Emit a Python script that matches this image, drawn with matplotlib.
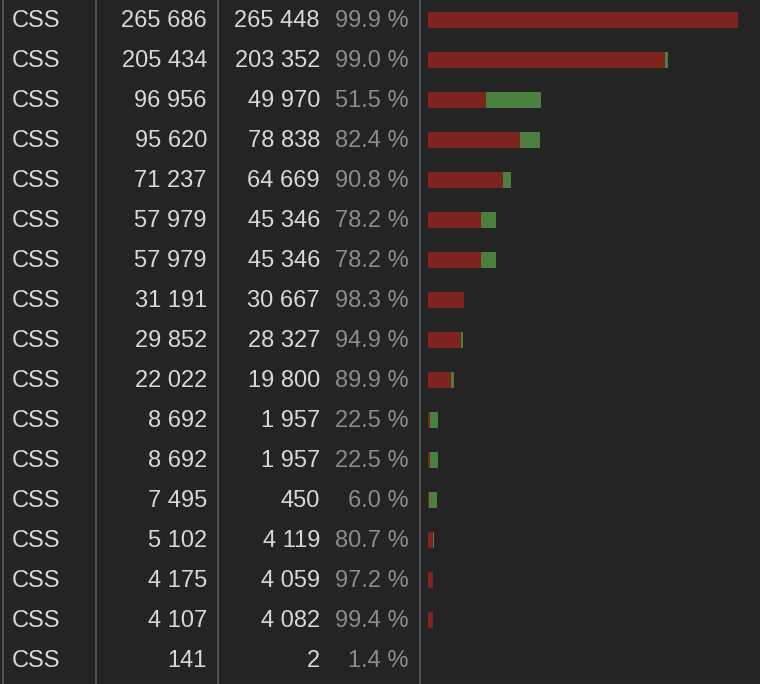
import matplotlib
matplotlib.use("Agg")
import matplotlib.pyplot as plt

# coverage table values
types = ["CSS"] * 17
total_bytes = [265686, 205434, 96956, 95620, 71237, 57979, 57979, 31191, 29852,
               22022, 8692, 8692, 7495, 5102, 4175, 4107, 141]
unused_bytes = [265448, 203352, 49970, 78838, 64669, 45346, 45346, 30667, 28327,
                19800, 1957, 1957, 450, 4119, 4059, 4082, 2]
unused_pct = [99.9, 99.0, 51.5, 82.4, 90.8, 78.2, 78.2, 98.3, 94.9,
              89.9, 22.5, 22.5, 6.0, 80.7, 97.2, 99.4, 1.4]

BG = "#242424"
TXT = "#d5d8dd"
PCT = "#8c8c8c"
RED = "#7d2420"
GREEN = "#4a7f3f"
SEP = "#5c5c5c"

W, H = 760, 684
fig = plt.figure(figsize=(W / 100, H / 100), dpi=100, facecolor=BG)
ax = fig.add_axes([0, 0, 1, 1])
ax.set_facecolor(BG)
ax.set_xlim(0, W)
ax.set_ylim(H, 0)
ax.axis("off")

def fmt(n):
    return f"{n:,}".replace(",", " ")

bar_x0 = 428
bar_max = 310
scale = bar_max / max(total_bytes)
row_h = 40
font = dict(family=["Liberation Sans", "DejaVu Sans"], fontsize=17, va="center")

for i, (t, tot, un, pct) in enumerate(zip(types, total_bytes, unused_bytes, unused_pct)):
    y = 20 + i * row_h
    ty = y + 1
    ax.text(12, ty, t, color=TXT, ha="left", **font)
    ax.text(207, ty, fmt(tot), color=TXT, ha="right", **font)
    ax.text(320, ty, fmt(un), color=TXT, ha="right", **font)
    ax.text(409, ty, f"{pct:.1f} %", color=PCT, ha="right", **font)
    if i < len(types) - 1:
        ax.barh(y, un * scale, left=bar_x0, height=16, color=RED)
        ax.barh(y, (tot - un) * scale, left=bar_x0 + un * scale, height=16, color=GREEN)

for x in [2.5, 95.5, 217.5, 419.5]:
    ax.axvline(x, color=SEP, lw=1.2)

fig.savefig("out.png", dpi=100, facecolor=BG)
